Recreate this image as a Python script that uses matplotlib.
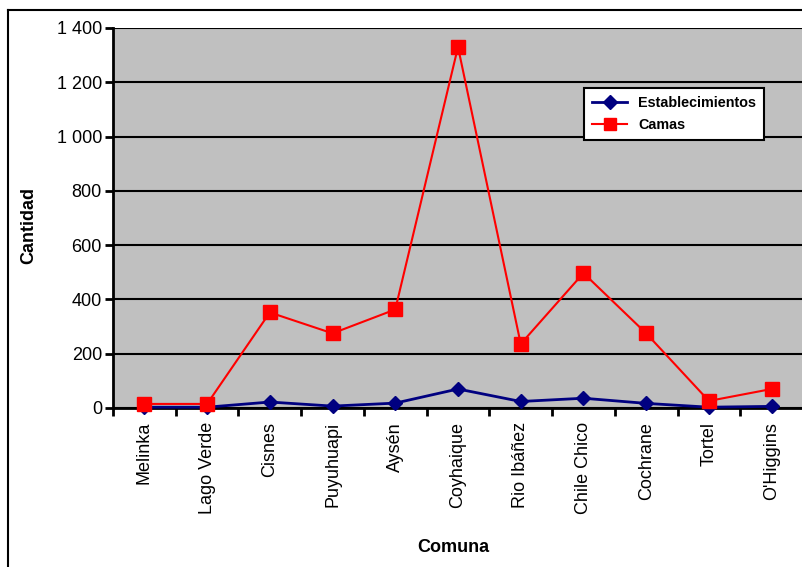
import matplotlib
matplotlib.use("Agg")
import matplotlib.pyplot as plt
from matplotlib.lines import Line2D
from matplotlib.ticker import FuncFormatter, FixedLocator
import numpy as np

comunas = ["Melinka", "Lago Verde", "Cisnes", "Puyuhuapi", "Aysén", "Coyhaique",
           "Rio Ibáñez", "Chile Chico", "Cochrane", "Tortel", "O'Higgins"]
establecimientos = [3, 3, 22, 7, 18, 70, 24, 36, 17, 3, 6]
camas = [15, 15, 352, 275, 363, 1330, 236, 497, 275, 26, 70]
yticks = [0, 200, 400, 600, 800, 1000, 1200, 1400]

plt.rcParams['font.family'] = ['Liberation Sans', 'DejaVu Sans']

fig = plt.figure(figsize=(8.03, 5.67), dpi=100)
W, H = 803, 567
ax = fig.add_axes([113 / W, 1 - 408 / H, 690 / W, 380 / H])
ax.set_facecolor('#C0C0C0')

x = np.arange(len(comunas))
ax.plot(x, establecimientos, color='#000080', lw=2, marker='D', markersize=7.5,
        markerfacecolor='#000080', markeredgecolor='#000080', zorder=4, clip_on=False)
ax.plot(x, camas, color='#FF0000', lw=1.5, marker='s', markersize=9.5,
        markerfacecolor='#FF0000', markeredgecolor='#FF0000', zorder=5, clip_on=False)

ax.set_xlim(-0.5, len(comunas) - 0.5)
ax.set_ylim(0, 1400)
ax.set_yticks(yticks)
ax.yaxis.set_major_formatter(FuncFormatter(lambda v, p: f"{int(v):,}".replace(",", " ")))
ax.grid(axis='y', color='black', lw=1.5)
ax.set_axisbelow(True)

ax.set_xticks(x)
ax.set_xticklabels(comunas, rotation=90, fontsize=13)
ax.xaxis.set_minor_locator(FixedLocator(np.arange(-0.5, len(comunas), 1.0)))
ax.tick_params(axis='x', which='major', length=0, pad=10)
ax.tick_params(axis='x', which='minor', length=6, width=2, direction='out', color='black')
ax.tick_params(axis='y', length=6, width=2, direction='out', labelsize=13, pad=2)

for s in ['top', 'right']:
    ax.spines[s].set_visible(False)
ax.spines['left'].set_linewidth(2)
ax.spines['bottom'].set_linewidth(2)

ax.set_ylabel("Cantidad", fontsize=13, fontweight='bold')
ax.yaxis.set_label_coords(-0.110, 0.48)
ax.set_xlabel("Comuna", fontsize=13, fontweight='bold')
ax.xaxis.set_label_coords(0.493, -0.345)

handles = [Line2D([], [], color='#000080', lw=2, marker='D', markersize=7),
           Line2D([], [], color='#FF0000', lw=1.5, marker='s', markersize=8.5)]
leg = ax.legend(handles, ["Establecimientos", "Camas"], loc='upper left',
                bbox_to_anchor=(0.683, 0.842), borderaxespad=0, frameon=True,
                fancybox=False, edgecolor='black', framealpha=1,
                prop={'weight': 'bold', 'size': 10.4}, handlelength=2.4,
                handletextpad=0.8, labelspacing=0.55, borderpad=0.55)
leg.get_frame().set_linewidth(1.5)

# outer border
fig.add_artist(Line2D([8 / W, 8 / W], [0, 1 - 10 / H], transform=fig.transFigure,
                      color='black', lw=1.5))
fig.add_artist(Line2D([8 / W, 1], [1 - 10 / H, 1 - 10 / H], transform=fig.transFigure,
                      color='black', lw=1.5))

fig.savefig("out.png", dpi=100)
